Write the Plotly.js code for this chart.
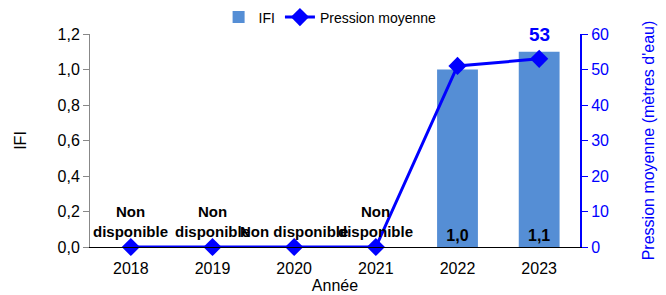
<!DOCTYPE html>
<html><head><meta charset="utf-8">
<script src="https://cdn.plot.ly/plotly-3.0.1.min.js"></script>
<style>body{margin:0;background:#fff}#c{width:666px;height:295px}</style>
</head><body><div id="c"></div>
<script>
const years = [2018, 2019, 2020, 2021, 2022, 2023];
const ifi = [null, null, null, null, 1.0, 1.1];
const pression = [0, 0, 0, 0, 51, 53];
const naLabels = ['Non<br>disponible','Non<br>disponible','Non disponible','Non<br>disponible', '', ''];
const font = 'Liberation Sans, Arial, sans-serif';

const fmt = v => v.toFixed(1).replace('.', ',');
const barText = ifi.map(v => v == null ? '' : '<b>' + fmt(v) + '</b>');
const lastIdx = pression.length - 1;

const annotations = [];
ifi.forEach((v, i) => {
  if (v == null) annotations.push({x: years[i], y: 0, xref: 'x', yref: 'y', yanchor: 'bottom', yshift: 5,
    text: '<b>' + naLabels[i] + '</b>', showarrow: false, font: {family: font, size: 15, color: '#000'}});
});
annotations.push({x: years[lastIdx], y: pression[lastIdx], xref: 'x', yref: 'y2', yanchor: 'bottom', yshift: 12,
  text: '<b>' + pression[lastIdx] + '</b>', showarrow: false, font: {family: font, size: 19, color: '#0000FF'}});

const traces = [
  {type: 'bar', x: years, y: ifi, name: 'IFI', marker: {color: '#558ED5'}, width: 0.5,
   text: barText, textposition: 'inside', insidetextanchor: 'start', textangle: 0,
   textfont: {family: font, size: 16, color: '#000'}},
  {type: 'scatter', mode: 'lines+markers', x: years, y: pression, yaxis: 'y2', name: 'Pression moyenne',
   line: {color: '#0000FF', width: 3}, marker: {symbol: 'diamond', size: 14, color: '#0000FF'}, cliponaxis: false}
];

const layout = {
  width: 666, height: 295, margin: {l: 90, r: 86, t: 34, b: 48},
  paper_bgcolor: '#fff', plot_bgcolor: '#fff', separators: ', ',
  font: {family: font, size: 16, color: '#000'},
  showlegend: true,
  legend: {orientation: 'h', x: 0.49, xanchor: 'center', xref: 'paper', yref: 'container', y: 0.995, yanchor: 'top',
    font: {family: font, size: 14}, traceorder: 'normal'},
  xaxis: {range: [2017.5, 2023.5], tickmode: 'array', tickvals: years, ticktext: years.map(String),
    showline: true, linecolor: '#000', linewidth: 1, ticks: '', ticklabelstandoff: 7, showgrid: false, zeroline: false,
    tickfont: {size: 16}, title: {text: 'Année', font: {size: 16}, standoff: 0}},
  yaxis: {range: [0, 1.2], dtick: 0.2, tickformat: '.1f', showline: true, linecolor: '#888', ticks: 'outside',
    tickcolor: '#888', ticklen: 6, showgrid: false, zeroline: false, tickfont: {size: 16},
    title: {text: 'IFI', font: {size: 16}, standoff: 26}},
  yaxis2: {overlaying: 'y', side: 'right', range: [0, 60], dtick: 10, showline: true, linecolor: '#0000FF', linewidth: 2,
    ticks: 'outside', tickcolor: '#0000FF', ticklen: 6, showgrid: false, zeroline: false,
    tickfont: {size: 16, color: '#0000FF'}, title: {text: 'Pression moyenne (mètres d\'eau)', font: {size: 16, color: '#0000FF'}, standoff: 35}},
  annotations: annotations
};
Plotly.newPlot('c', traces, layout, {displayModeBar: false, staticPlot: true});
</script></body></html>
